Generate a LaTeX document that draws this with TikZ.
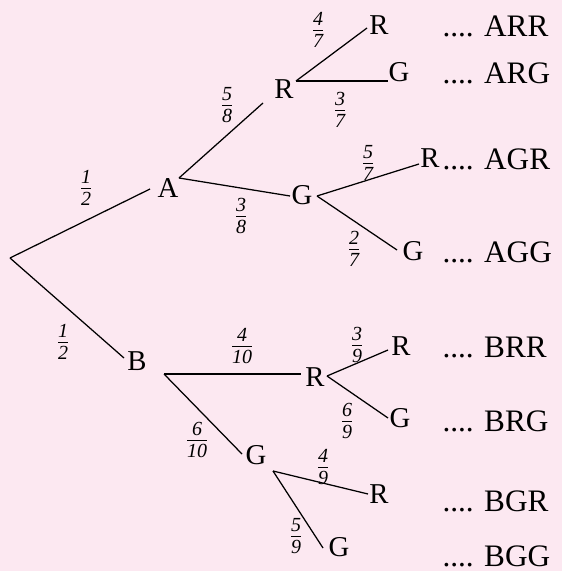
\documentclass[tikz,border=0pt]{standalone}
\usepackage{fontspec}
\setmainfont{Liberation Serif}
\definecolor{bgpink}{RGB}{252,232,241}
\newcommand\fr[2]{$\frac{\mbox{\itshape #1}\rule[-1.3pt]{0pt}{1.3pt}}{\mbox{\itshape #2}\rule{0pt}{6.4pt}}$}
\tikzset{
  lbl/.style={inner sep=0pt,font=\fontsize{11.5}{12}\selectfont},
  res/.style={inner sep=0pt,anchor=west,font=\fontsize{12.5}{14}\selectfont},
  prob/.style={inner sep=0pt,font=\fontsize{8}{9}\selectfont},
  branch/.style={line width=0.5pt}
}
\begin{document}
\begin{tikzpicture}[x=0.4pt,y=-0.4pt]
  \fill[bgpink] (0,0) rectangle (562,571);
  \useasboundingbox (0,0) rectangle (562,571);
  \coordinate (o) at (10,258);
  \node[lbl] (A) at (168,188) {A};
  \node[lbl] (B) at (137,361) {B};
  \node[lbl] (AR) at (284,89) {R};
  \node[lbl] (AG) at (302,195) {G};
  \node[lbl] (BR) at (315,377) {R};
  \node[lbl] (BG) at (256,455) {G};
  \node[lbl] (ARR) at (379,25) {R};
  \node[lbl] (ARG) at (399,72) {G};
  \node[lbl] (AGR) at (430,158) {R};
  \node[lbl] (AGG) at (413,251) {G};
  \node[lbl] (BRR) at (401,346) {R};
  \node[lbl] (BRG) at (400,418) {G};
  \node[lbl] (BGR) at (379,494) {R};
  \node[lbl] (BGG) at (339,547) {G};
  \coordinate (A-i) at (150,189); \coordinate (A-o) at (179,178);
  \coordinate (B-i) at (124,358); \coordinate (B-o) at (164,374);
  \coordinate (AR-i) at (263,103); \coordinate (AR-o) at (296,81);
  \coordinate (AG-i) at (290,196); \coordinate (AG-o) at (317,196);
  \coordinate (BR-i) at (301,374); \coordinate (BR-o) at (327,376);
  \coordinate (BG-i) at (242,454); \coordinate (BG-o) at (273,471);
  \coordinate (ARR-i) at (367,28); \coordinate (ARG-i) at (388,81);
  \coordinate (AGR-i) at (419,164); \coordinate (AGG-i) at (397,250);
  \coordinate (BRR-i) at (388,350); \coordinate (BRG-i) at (388,418);
  \coordinate (BGR-i) at (368,494); \coordinate (BGG-i) at (323,548);
  \draw[branch] (o) -- (A-i);
  \draw[branch] (o) -- (B-i);
  \draw[branch] (A-o) -- (AR-i);
  \draw[branch] (A-o) -- (AG-i);
  \draw[branch] (B-o) -- (BR-i);
  \draw[branch] (B-o) -- (BG-i);
  \draw[branch] (AR-o) -- (ARR-i);
  \draw[branch] (AR-o) -- (ARG-i);
  \draw[branch] (AG-o) -- (AGR-i);
  \draw[branch] (AG-o) -- (AGG-i);
  \draw[branch] (BR-o) -- (BRR-i);
  \draw[branch] (BR-o) -- (BRG-i);
  \draw[branch] (BG-o) -- (BGR-i);
  \draw[branch] (BG-o) -- (BGG-i);
  \node[prob] (pA) at (86,188) {\fr{1}{2}};
  \node[prob] (pB) at (63,342) {\fr{1}{2}};
  \node[prob] (pAR) at (227,105) {\fr{5}{8}};
  \node[prob] (pAG) at (241,216) {\fr{3}{8}};
  \node[prob] (pBR) at (242,346) {\fr{4}{10}};
  \node[prob] (pBG) at (197,440) {\fr{6}{10}};
  \node[prob] (pARR) at (318,30) {\fr{4}{7}};
  \node[prob] (pARG) at (340,110) {\fr{3}{7}};
  \node[prob] (pAGR) at (368,163) {\fr{5}{7}};
  \node[prob] (pAGG) at (354,249) {\fr{2}{7}};
  \node[prob] (pBRR) at (357,345) {\fr{3}{9}};
  \node[prob] (pBRG) at (347,421) {\fr{6}{9}};
  \node[prob] (pBGR) at (323,467) {\fr{4}{9}};
  \node[prob] (pBGG) at (296,536) {\fr{5}{9}};
  \foreach \name/\y in {ARR/26,ARG/73,AGR/159,AGG/252,BRR/347,BRG/421,BGR/501,BGG/556}
    \node[res] (r\name) at (442,\y) {.... \name};
\end{tikzpicture}
\end{document}
